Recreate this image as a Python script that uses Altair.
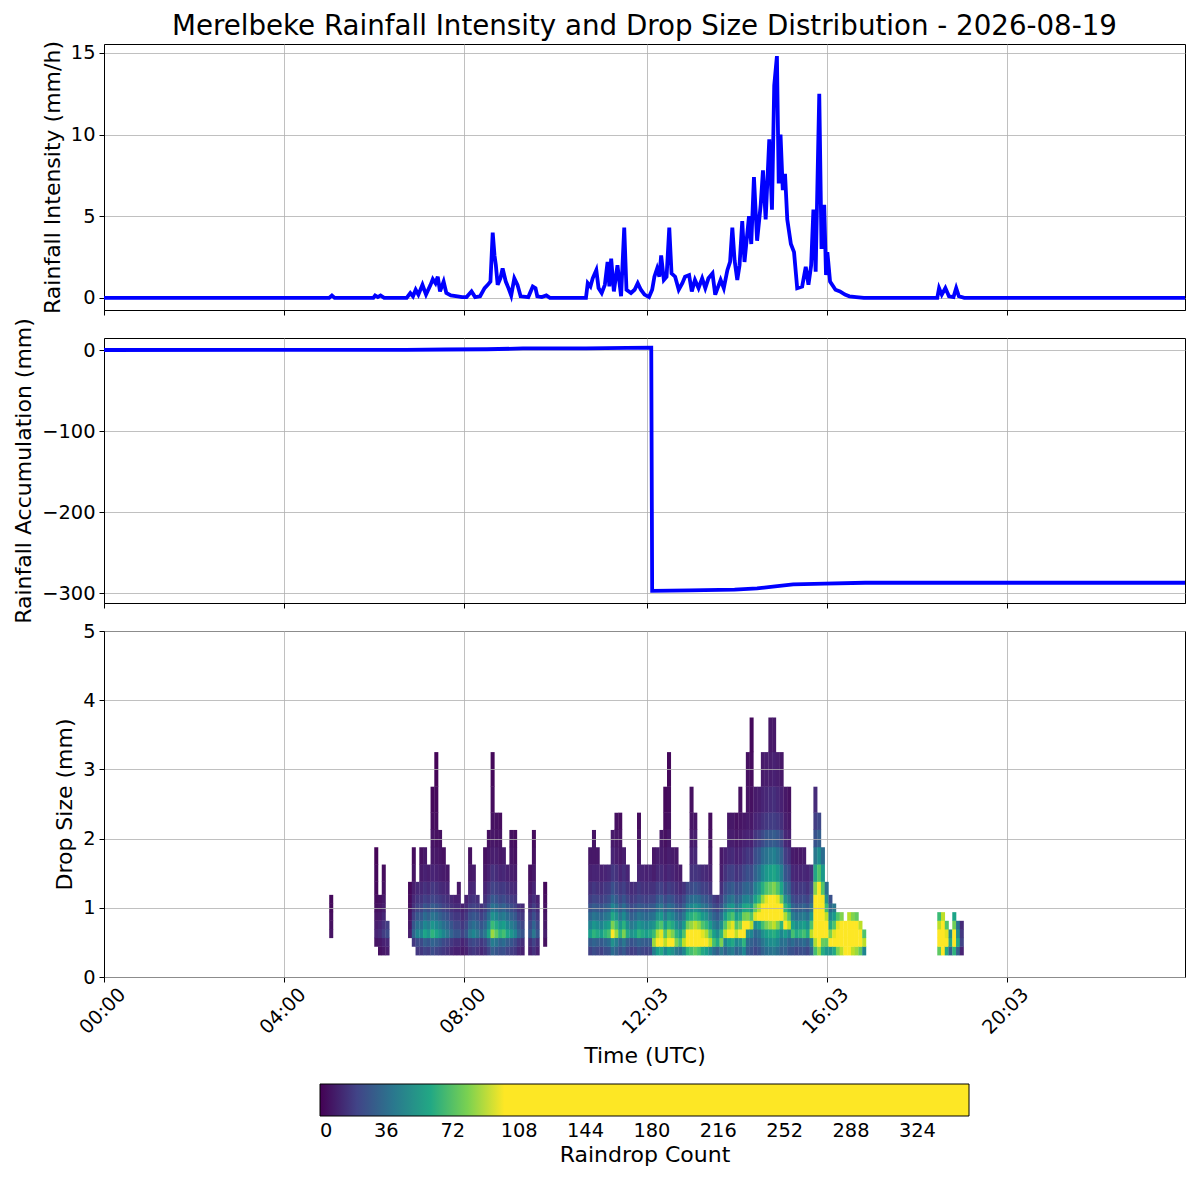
import altair as alt
import pandas as pd

TITLE = "Merelbeke Rainfall Intensity and Drop Size Distribution - 2026-08-19"

# ---- Rainfall intensity (mm/h), time in hours UTC
int_hours = [0.0, 5.0, 5.06, 5.12, 5.98, 6.02, 6.08, 6.14, 6.22, 6.72, 6.8, 6.86, 6.92, 6.98,
             7.07, 7.15, 7.25, 7.3, 7.36, 7.41, 7.46, 7.54, 7.6, 7.7, 7.85, 7.95, 8.05, 8.16,
             8.24, 8.35, 8.45, 8.52, 8.58, 8.63, 8.67, 8.7, 8.74, 8.8, 8.85, 8.92, 8.98, 9.04,
             9.11, 9.18, 9.25, 9.42, 9.52, 9.58, 9.62, 9.72, 9.82, 9.9, 10.7, 10.74, 10.8,
             10.85, 10.93, 10.98, 11.05, 11.12, 11.18, 11.22, 11.26, 11.32, 11.4, 11.48, 11.55,
             11.6, 11.7, 11.78, 11.85, 11.92, 12.0, 12.1, 12.17, 12.22, 12.28, 12.33, 12.37,
             12.43, 12.49, 12.55, 12.6, 12.68, 12.76, 12.84, 12.9, 12.99, 13.05, 13.12, 13.2,
             13.28, 13.35, 13.42, 13.51, 13.57, 13.65, 13.69, 13.76, 13.84, 13.9, 13.95, 14.0,
             14.06, 14.11, 14.17, 14.22, 14.32, 14.37, 14.43, 14.5, 14.58, 14.63, 14.69, 14.77,
             14.83, 14.88, 14.94, 14.98, 15.02, 15.07, 15.12, 15.17, 15.25, 15.32, 15.39, 15.5,
             15.58, 15.64, 15.7, 15.75, 15.8, 15.88, 15.93, 15.99, 16.03, 16.06, 16.12, 16.24,
             16.34, 16.45, 16.55, 16.7, 16.87, 18.5, 18.54, 18.6, 18.68, 18.76, 18.86, 18.92,
             18.98, 19.1, 24.0]
int_values = [0, 0, 0.15, 0, 0, 0.15, 0.05, 0.15, 0, 0, 0.3, 0.1, 0.5, 0.2,
              0.8, 0.2, 0.8, 1.15, 0.9, 1.3, 0.4, 1.0, 0.3, 0.15, 0.1, 0.05, 0.05, 0.4,
              0.05, 0.1, 0.6, 0.8, 1.0, 4.0, 2.6, 2.0, 0.8, 1.2, 1.8, 1.0, 0.6, 0.15,
              1.2, 0.8, 0.1, 0.05, 0.7, 0.6, 0.1, 0.05, 0.15, 0, 0, 0.9, 0.7,
              1.2, 1.7, 0.6, 0.3, 0.8, 2.2, 0.7, 2.4, 0.4, 2.0, 0.1, 4.3,
              0.5, 0.3, 0.5, 0.9, 0.5, 0.2, 0.05, 0.5, 1.3, 1.8, 1.3, 2.6,
              1.1, 1.3, 4.3, 1.5, 1.3, 0.5, 0.9, 1.3, 1.4, 0.4, 1.1, 0.6,
              1.2, 0.6, 1.2, 1.5, 0.2, 0.8, 1.1, 0.6, 1.7, 2.2, 4.3, 2.3,
              1.1, 2.0, 4.7, 2.2, 5.0, 3.3, 7.4, 3.5, 5.7, 7.8, 4.8, 9.7,
              5.4, 13.0, 14.8, 7.0, 10.0, 6.6, 7.6, 4.8, 3.3, 2.8, 0.6, 0.7,
              1.9, 0.8, 2.0, 5.4, 1.6, 12.5, 3.0, 5.7, 1.4, 2.8, 1.0, 0.5,
              0.4, 0.2, 0.1, 0.05, 0, 0, 0.6, 0.2, 0.6, 0.1, 0.05, 0.6,
              0.1, 0, 0]

# ---- Rainfall accumulation (mm)
acc_hours = [0.0, 6.7, 7.6, 8.5, 9.3, 10.7, 11.6, 12.15, 12.17, 13.0, 14.0, 14.5, 14.9,
             15.3, 16.0, 16.9, 24.0]
acc_values = [0.0, 0.1, 0.6, 0.9, 1.9, 2.0, 2.5, 3.0, -297.0, -296.5, -295.5, -294.0,
              -291.5, -289.0, -288.0, -287.0, -287.0]

# ---- Drop size distribution: size class boundaries (mm)
size_edges = [0.312, 0.437, 0.562, 0.687, 0.812, 0.937, 1.062, 1.187, 1.375, 1.625,
              1.875, 2.125, 2.375, 2.75, 3.25, 3.75]
# columns: start minute (5-min bins), top size, bottom size, peak count, modal class index
col_minute = [300, 360, 365, 370, 375,
              405, 410, 415, 420, 425, 430, 435, 440, 445, 450, 455, 460, 465, 470, 475,
              480, 485, 490, 495, 500, 505, 510, 515, 520, 525, 530, 535, 540, 545, 550,
              555, 565, 570, 575, 585,
              645, 650, 655, 660, 665, 670, 675, 680, 685, 690, 695, 700, 705, 710, 715,
              720, 725, 730, 735, 740, 745, 750, 755, 760, 765, 770, 775, 780, 785, 790,
              795, 800, 805, 810, 815, 820, 825, 830, 835, 840, 845, 850, 855, 860, 865,
              870, 875, 880, 885, 890, 895, 900, 905, 910, 915, 920, 925, 930, 935, 940,
              945, 950, 955, 960, 965, 970, 975, 980, 985, 990, 995, 1000, 1005, 1010,
              1110, 1115, 1120, 1125, 1130, 1135, 1140]
col_top = [1.187, 1.875, 1.187, 1.625, 0.812,
           1.375, 1.875, 1.375, 1.875, 1.875, 1.625, 2.75, 3.25, 2.125, 1.875, 1.625, 1.187,
           1.187, 1.375, 1.062,
           1.187, 1.875, 1.625, 1.187, 1.062, 1.875, 2.125, 3.25, 2.375, 2.375, 1.875, 1.625,
           2.125, 2.125, 1.062, 1.062, 1.625, 2.125, 1.187, 1.375,
           1.875, 2.125, 1.875, 1.625, 1.625, 1.625, 2.125, 2.375, 2.375, 1.875, 1.625, 1.375,
           1.375, 2.375, 1.625, 1.625, 1.625, 1.875, 1.875, 2.125, 2.75, 3.25, 1.875, 1.875,
           1.625, 1.375, 1.375, 2.75, 2.375, 1.625, 1.625, 1.625, 2.375, 1.187, 1.187, 1.875,
           1.875, 2.375, 2.375, 2.375, 2.75, 2.375, 3.25, 3.75, 2.75, 2.75, 3.25, 3.25, 3.75,
           3.75, 3.25, 3.25, 2.75, 2.75, 1.875, 1.875, 1.875, 1.875, 1.625, 1.625, 2.75, 2.375,
           1.875, 1.375, 1.187, 1.062, 0.937, 0.937, 0.812, 0.937, 0.937, 0.937, 0.812, 0.687,
           0.937, 0.937, 0.812, 0.687, 0.937, 0.812, 0.812]
col_bottom = [0.562, 0.437, 0.312, 0.312, 0.312,
              0.562, 0.437] + [0.312] * 32 + [0.437] + [0.312] * 74 + [0.312] * 7
col_peak = [5, 10, 12, 18, 22,
            8, 32, 45, 45, 58, 52, 65, 58, 52, 45, 40, 32, 26, 26, 20,
            26, 40, 45, 40, 32, 40, 58, 85, 75, 65, 70, 58, 52, 45, 32,
            26, 26, 40, 26, 8,
            55, 65, 60, 55, 65, 70, 100, 85, 65, 80, 60, 50, 55, 65, 60,
            55, 60, 85, 110, 120, 90, 110, 100, 80, 70, 90, 130, 140, 150, 140,
            120, 110, 90, 70, 60, 80, 90, 110, 120, 90, 100, 130, 100, 90, 95,
            110, 140, 160, 170, 180, 160, 130, 110, 90, 70, 60, 65, 70, 60, 90,
            250, 300, 220, 150, 100, 120, 160, 180, 200, 200, 180, 170, 150, 90,
            150, 200, 120, 60, 130, 60, 20]
col_mode = ([2] * 40 + [2] * 17 + [1] * 19 + [2] * 6 + [3] * 2 + [4] * 8 + [3] * 2 +
            [2] * 6 + [3] * 3 + [2] + [1] * 10 + [1] * 7)
# relative count by distance (in classes) from the modal class
profile_offset = [-4, -3, -2, -1, 0, 1, 2, 3, 4, 5, 6, 7, 8, 9, 10, 11, 12, 13, 14]
profile_weight = [0.22, 0.28, 0.35, 0.5, 1.0, 0.8, 0.6, 0.45, 0.33, 0.24, 0.16, 0.1, 0.07,
                  0.05, 0.035, 0.025, 0.02, 0.015, 0.01]

x_tick_hours = [0, 4, 8, 12.05, 16.05, 20.05]
x_tick_labels = ["00:00", "04:00", "08:00", "12:03", "16:03", "20:03"]
cbar_ticks = [0, 36, 72, 108, 144, 180, 216, 252, 288, 324]

VIRIDIS = ["#440154", "#482475", "#414487", "#355f8d", "#2a788e", "#21918c",
           "#22a884", "#44bf70", "#7ad151", "#bddf26", "#fde725"]
color_domain = [0, 10, 20, 30, 40, 50, 60, 70, 80, 90, 100, 352]
color_range = VIRIDIS + ["#fde725"]

FONT = "DejaVu Sans"
BIN_MIN = 5          # minutes per DSD column
SEAM_H = 0.006       # tiny overlap (hours) so adjacent cells leave no hairline gaps
SEAM_MM = 0.006      # tiny overlap (mm)

assert len(col_minute) == len(col_top) == len(col_bottom) == len(col_peak) == len(col_mode)

# ---- build tables
int_df = pd.DataFrame({"t": int_hours, "v": int_values})
acc_df = pd.DataFrame({"t": acc_hours, "v": acc_values})
rows = []
for m, top_d, bot_d, pk, mode in zip(col_minute, col_top, col_bottom, col_peak, col_mode):
    i0 = size_edges.index(bot_d)
    i1 = size_edges.index(top_d)
    for i in range(i0, i1):
        w = profile_weight[profile_offset.index(i - mode)]
        rows.append({"t0": m / 60, "t1": (m + BIN_MIN) / 60 + SEAM_H,
                     "d0": size_edges[i],
                     "d1": size_edges[i + 1] + (SEAM_MM if i + 1 < i1 else 0),
                     "count": max(1, round(pk * w))})
dsd_df = pd.DataFrame(rows)

label_expr = "'" + x_tick_labels[-1] + "'"
for h, lab in reversed(list(zip(x_tick_hours[:-1], x_tick_labels[:-1]))):
    label_expr = f"datum.value < {h + 0.5} ? '{lab}' : ({label_expr})"

x_scale = alt.Scale(domain=[0, 24], nice=False, zero=False)
W = 1081


def xaxis(show):
    if show:
        return alt.Axis(values=x_tick_hours, labelExpr=label_expr, title="Time (UTC)",
                        labelAngle=-45, labelAlign="right", labelBaseline="middle",
                        labelOffset=18, labelPadding=9, titlePadding=8)
    return alt.Axis(values=x_tick_hours, labels=False, title=None)


top = alt.Chart(int_df).mark_line(color="#0000ff", strokeWidth=3.8, clip=True).encode(
    x=alt.X("t:Q", scale=x_scale, axis=xaxis(False)),
    y=alt.Y("v:Q", scale=alt.Scale(domain=[-0.74, 15.54], nice=False, zero=False),
            axis=alt.Axis(values=[0, 5, 10, 15], title="Rainfall Intensity (mm/h)")),
).properties(width=W, height=266,
             title=alt.TitleParams(TITLE, fontSize=27.7, font=FONT, fontWeight="normal",
                                   anchor="middle", frame="group", offset=0, color="black"))

mid = alt.Chart(acc_df).mark_line(color="#0000ff", strokeWidth=3.8, clip=True).encode(
    x=alt.X("t:Q", scale=x_scale, axis=xaxis(False)),
    y=alt.Y("v:Q", scale=alt.Scale(domain=[-312, 14.8], nice=False, zero=False),
            axis=alt.Axis(values=[-300, -200, -100, 0], title="Rainfall Accumulation (mm)")),
).properties(width=W, height=265)

bot = alt.Chart(dsd_df).mark_rect().encode(
    x=alt.X("t0:Q", scale=x_scale, axis=xaxis(True)),
    x2="t1:Q",
    y=alt.Y("d0:Q", scale=alt.Scale(domain=[0, 5], nice=False, zero=False),
            axis=alt.Axis(values=[0, 1, 2, 3, 4, 5], title="Drop Size (mm)", zindex=1)),
    y2="d1:Q",
    color=alt.Color("count:Q",
                    scale=alt.Scale(domain=color_domain, range=color_range, clamp=True),
                    legend=alt.Legend(type="gradient", orient="none", legendX=216,
                                      legendY=1040, direction="horizontal",
                                      gradientLength=649, gradientThickness=32,
                                      title="Raindrop Count", titleOrient="bottom",
                                      titleAnchor="middle", values=cbar_ticks, labelOffset=6,
                                      labelAlign="center",
                                      labelFontSize=19.4, labelFont=FONT, labelColor="black",
                                      titleFontSize=22, titleFont=FONT, titleFontWeight="normal",
                                      titleColor="black", titlePadding=5,
                                      gradientStrokeColor="black", gradientStrokeWidth=1)),
).properties(width=W, height=346)

chart = alt.vconcat(top, mid, bot, spacing=28, bounds="flush").configure_axis(
    grid=True, gridColor="#b0b0b0", gridWidth=0.8, domainColor="black", domainWidth=1,
    tickColor="black", tickSize=5, tickWidth=1, labelFont=FONT, labelFontSize=19.4,
    labelColor="black", labelPadding=4, titleFont=FONT, titleFontSize=22,
    titleFontWeight="normal", titleColor="black", titlePadding=6,
).configure_view(stroke="black", strokeWidth=1).properties(padding=4)

chart.save("out.html", embed_options={"renderer": "svg", "actions": False})
